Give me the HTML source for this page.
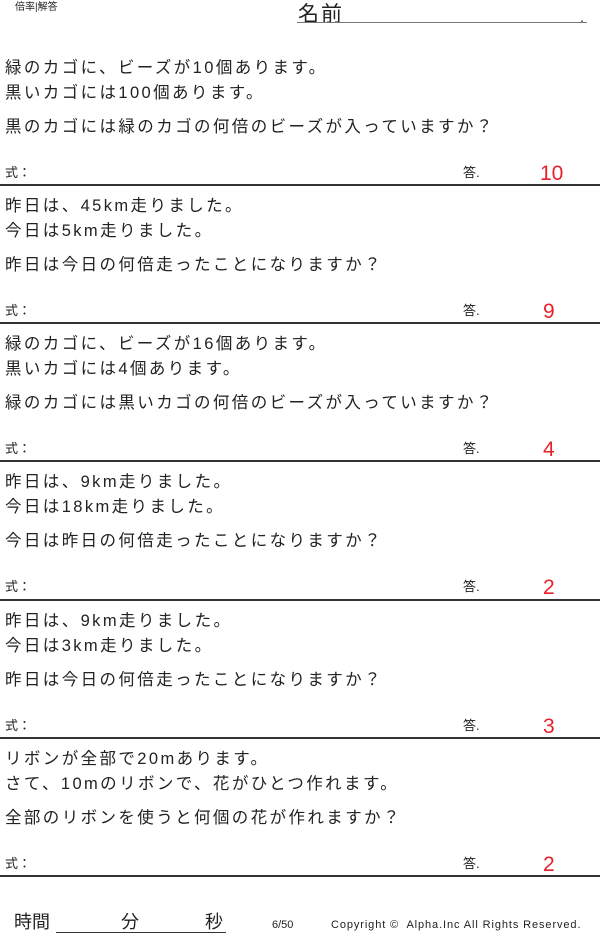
<!DOCTYPE html>
<html><head><meta charset="utf-8"><style>
body{margin:0;width:600px;height:935px;background:#fff;position:relative;overflow:hidden;font-family:"Liberation Sans","Noto Sans CJK JP",sans-serif;color:#222}
.a{position:absolute;white-space:nowrap;line-height:1}
.t{font-size:16.5px;left:5px;letter-spacing:2.4px}
.s{font-size:13px}
.r{color:#e8202a;font-size:21px;font-weight:300}
.hr{position:absolute;left:0;width:600px;height:2px;background:#333}
</style></head><body>
<div class="a" style="left:15px;top:2px;font-size:10px;line-height:12px">倍率|解答</div>
<div class="a" style="left:298px;top:4px;font-size:21px;letter-spacing:2px">名前</div>
<div class="a" style="left:580px;top:10px;font-size:14px">.</div>
<div style="position:absolute;left:297px;top:22px;width:290px;height:1px;background:#777"></div>

<div class="a t" style="top:60px">緑のカゴに、ビーズが10個あります。</div>
<div class="a t" style="top:85px">黒いカゴには100個あります。</div>
<div class="a t" style="top:119px">黒のカゴには緑のカゴの何倍のビーズが入っていますか？</div>
<div class="a s" style="left:5px;top:166px">式：</div><div class="a s" style="left:463px;top:166px">答.</div>
<div class="a r" style="left:540px;top:163px">10</div>
<div class="hr" style="top:184px"></div>

<div class="a t" style="top:198px">昨日は、45km走りました。</div>
<div class="a t" style="top:223px">今日は5km走りました。</div>
<div class="a t" style="top:257px">昨日は今日の何倍走ったことになりますか？</div>
<div class="a s" style="left:5px;top:304px">式：</div><div class="a s" style="left:463px;top:304px">答.</div>
<div class="a r" style="left:543px;top:301px">9</div>
<div class="hr" style="top:322px"></div>

<div class="a t" style="top:336px">緑のカゴに、ビーズが16個あります。</div>
<div class="a t" style="top:361px">黒いカゴには4個あります。</div>
<div class="a t" style="top:395px">緑のカゴには黒いカゴの何倍のビーズが入っていますか？</div>
<div class="a s" style="left:5px;top:442px">式：</div><div class="a s" style="left:463px;top:442px">答.</div>
<div class="a r" style="left:543px;top:439px">4</div>
<div class="hr" style="top:460px"></div>

<div class="a t" style="top:474px">昨日は、9km走りました。</div>
<div class="a t" style="top:499px">今日は18km走りました。</div>
<div class="a t" style="top:533px">今日は昨日の何倍走ったことになりますか？</div>
<div class="a s" style="left:5px;top:580px">式：</div><div class="a s" style="left:463px;top:580px">答.</div>
<div class="a r" style="left:543px;top:577px">2</div>
<div class="hr" style="top:599px"></div>

<div class="a t" style="top:613px">昨日は、9km走りました。</div>
<div class="a t" style="top:638px">今日は3km走りました。</div>
<div class="a t" style="top:672px">昨日は今日の何倍走ったことになりますか？</div>
<div class="a s" style="left:5px;top:719px">式：</div><div class="a s" style="left:463px;top:719px">答.</div>
<div class="a r" style="left:543px;top:716px">3</div>
<div class="hr" style="top:737px"></div>

<div class="a t" style="top:751px">リボンが全部で20mあります。</div>
<div class="a t" style="top:776px">さて、10mのリボンで、花がひとつ作れます。</div>
<div class="a t" style="top:810px">全部のリボンを使うと何個の花が作れますか？</div>
<div class="a s" style="left:5px;top:857px">式：</div><div class="a s" style="left:463px;top:857px">答.</div>
<div class="a r" style="left:543px;top:854px">2</div>
<div class="hr" style="top:875px"></div>

<div class="a" style="left:14px;top:913px;font-size:18px">時間</div>
<div style="position:absolute;left:56px;top:932px;width:170px;height:1px;background:#333"></div>
<div class="a" style="left:121px;top:913px;font-size:18px">分</div>
<div class="a" style="left:205px;top:913px;font-size:18px">秒</div>
<div class="a" style="left:272px;top:920px;font-size:11px">6/50</div>
<div class="a" style="left:331px;top:920px;font-size:11px;letter-spacing:0.9px">Copyright ©&nbsp; Alpha.Inc All Rights Reserved.</div>
</body></html>
